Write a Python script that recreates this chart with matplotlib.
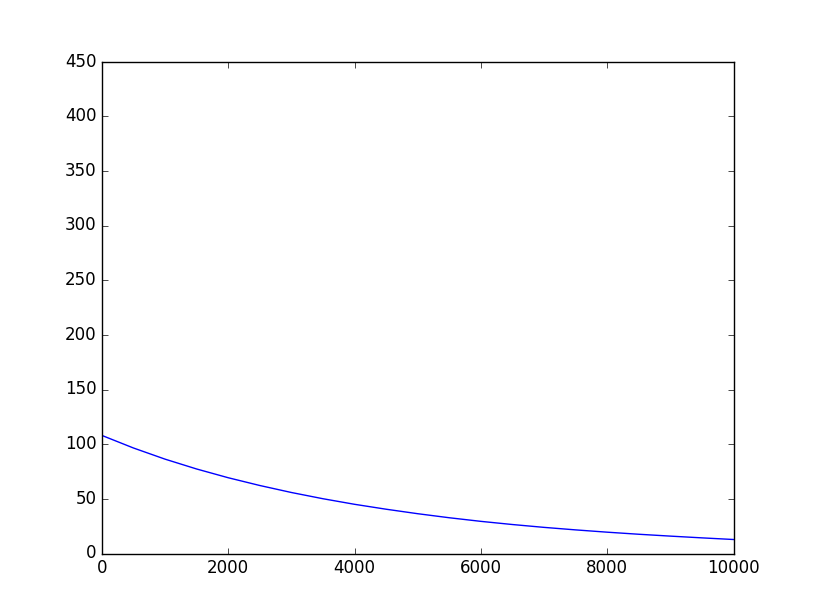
import matplotlib
matplotlib.use('Agg')
import matplotlib.pyplot as plt

plt.style.use('classic')

# values
x = [0, 500, 1000, 1500, 2000, 2500, 3000, 3500, 4000, 4500, 5000,
     5500, 6000, 6500, 7000, 7500, 8000, 8500, 9000, 9500, 10000]
y = [108, 96.5, 86.3, 77.3, 69.3, 62.2, 55.8, 50.1, 45, 40.5, 36.4,
     32.7, 29.4, 26.5, 23.9, 21.6, 19.5, 17.6, 15.9, 14.3, 12.8]

fig = plt.figure(figsize=(8.15, 6.15), dpi=100)
ax = fig.add_subplot(111)
ax.plot(x, y, 'b-')
ax.set_xlim(0, 10000)
ax.set_ylim(0, 450)
fig.savefig('out.png', dpi=100)
